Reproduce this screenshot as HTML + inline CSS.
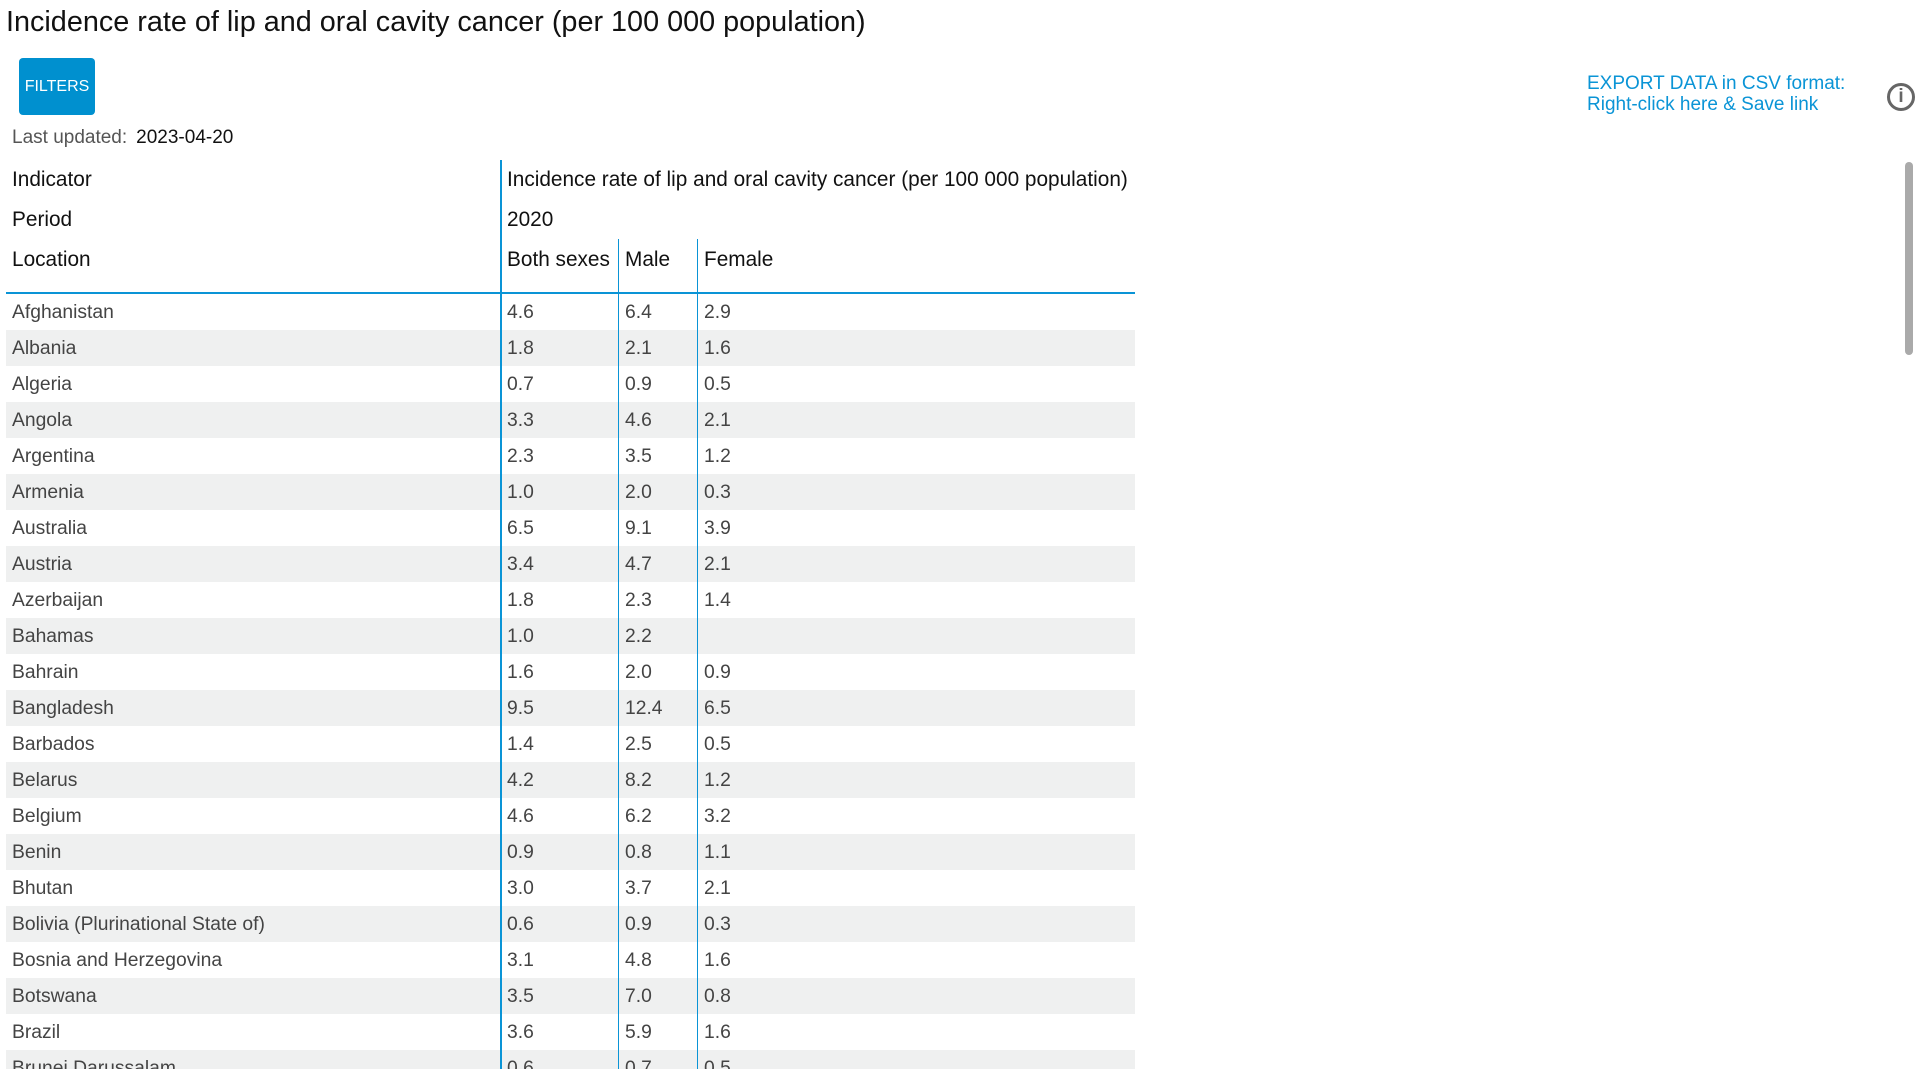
<!DOCTYPE html>
<html><head><meta charset="utf-8"><style>
body{margin:0;width:1920px;height:1080px;overflow:hidden;background:#fff;font-family:"Liberation Sans",sans-serif;position:relative}
.a{position:absolute;white-space:nowrap}
#title{left:6px;top:6px;font-size:28.8px;color:#111}
#filters{left:19px;top:58px;width:76px;height:57px;background:#0090cf;border-radius:4px;color:#fff;font-size:16px;line-height:57px;text-align:center}
#upd{left:12px;top:127px;font-size:19px;color:#555}
#upd span{color:#111;margin-left:9px}
#exp{left:1587px;top:73px;font-size:19px;line-height:21px;color:#0a94d6}
#info{left:1887px;top:83px;width:22px;height:22px;border:3.5px solid #666;border-radius:50%;color:#666;font-weight:bold;font-size:19px;line-height:22px;text-align:center}
#sb{left:1905px;top:162px;width:8px;height:193px;background:#aaa;border-radius:4px}
.h{font-size:20.8px;color:#111}
.row{position:absolute;left:6px;width:1129px;height:36px}
.row div{position:absolute;top:1px;line-height:36px;font-size:19.3px;color:#444}
.vl{position:absolute;background:#0a94d6}
#clip{position:absolute;left:0;top:0;width:1920px;height:1069px;overflow:hidden}
</style></head><body>
<div id="clip">
<div class="a" id="title">Incidence rate of lip and oral cavity cancer (per 100 000 population)</div>
<div class="a" id="filters">FILTERS</div>
<div class="a" id="upd">Last updated:<span>2023-04-20</span></div>
<div class="a h" style="left:12px;top:168px">Indicator</div>
<div class="a h" style="left:507px;top:168px">Incidence rate of lip and oral cavity cancer (per 100 000 population)</div>
<div class="a h" style="left:12px;top:208px">Period</div>
<div class="a h" style="left:507px;top:208px">2020</div>
<div class="a h" style="left:12px;top:248px">Location</div>
<div class="a h" style="left:507px;top:248px">Both sexes</div>
<div class="a h" style="left:625px;top:248px">Male</div>
<div class="a h" style="left:704px;top:248px">Female</div>
<div class="vl" style="left:6px;top:292px;width:1129px;height:2px"></div>
<div id="rows"></div>
<div class="vl" style="left:500px;top:160px;width:2px;height:920px"></div>
<div class="vl" style="left:618px;top:239px;width:1px;height:841px"></div>
<div class="vl" style="left:697px;top:239px;width:1px;height:841px"></div>
</div>
<div class="a" id="exp">EXPORT DATA in CSV format:<br>Right-click here &amp; Save link</div>
<div class="a" id="info">i</div>
<div class="a" id="sb"></div>
<script>
const locations=["Afghanistan","Albania","Algeria","Angola","Argentina","Armenia","Australia","Austria","Azerbaijan","Bahamas","Bahrain","Bangladesh","Barbados","Belarus","Belgium","Benin","Bhutan","Bolivia (Plurinational State of)","Bosnia and Herzegovina","Botswana","Brazil","Brunei Darussalam"];
const bothSexes=["4.6","1.8","0.7","3.3","2.3","1.0","6.5","3.4","1.8","1.0","1.6","9.5","1.4","4.2","4.6","0.9","3.0","0.6","3.1","3.5","3.6","0.6"];
const male=["6.4","2.1","0.9","4.6","3.5","2.0","9.1","4.7","2.3","2.2","2.0","12.4","2.5","8.2","6.2","0.8","3.7","0.9","4.8","7.0","5.9","0.7"];
const female=["2.9","1.6","0.5","2.1","1.2","0.3","3.9","2.1","1.4","","0.9","6.5","0.5","1.2","3.2","1.1","2.1","0.3","1.6","0.8","1.6","0.5"];
const host=document.getElementById('rows');
locations.forEach((loc,i)=>{
  const r=document.createElement('div');
  r.className='row';
  
  
  r.style.top=(294+i*36)+'px';
  r.style.background=i%2?'#eff0f0':'#fff';
  [[loc,6],[bothSexes[i],501],[male[i],619],[female[i],698]].forEach(([t,x],j)=>{
    const c=document.createElement('div');
    
    
    c.style.left=x+'px';c.textContent=t;r.appendChild(c);
  });
  host.appendChild(r);
});
</script>
</body></html>
